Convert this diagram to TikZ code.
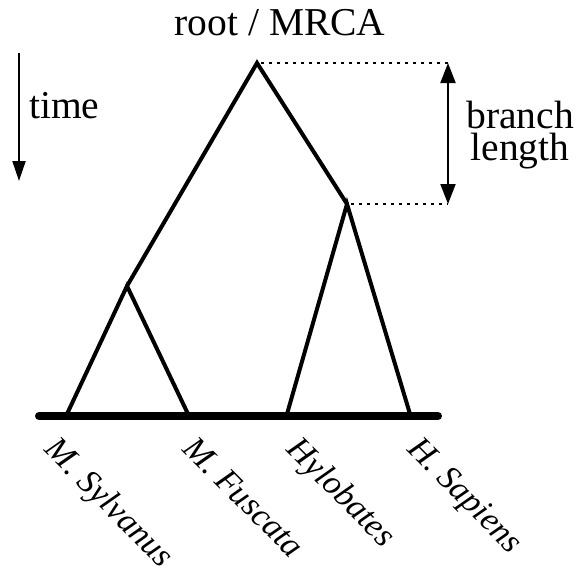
\documentclass[tikz,border=0pt]{standalone}
\usepackage{fontspec}
\setmainfont{Liberation Serif}
\usetikzlibrary{arrows.meta}
\begin{document}
\begin{tikzpicture}[x=1pt,y=-1pt,
  branchline/.style={line width=4pt, line join=miter},
  baseline bar/.style={line width=8pt, line cap=round},
  dotline/.style={line width=1.5pt, dash pattern=on 3pt off 5pt},
  arrowline/.style={line width=2pt},
  bigtext/.style={font=\fontsize{39.5}{39.5}\selectfont, inner sep=0pt},
  leaflabel/.style={font=\fontsize{34}{34}\selectfont\itshape, inner sep=0pt, rotate=-45, anchor=north west}]
\useasboundingbox (0,0) rectangle (577,566);
% tree points
\coordinate (root) at (257,63);
\coordinate (a) at (127,286);
\coordinate (b) at (347,204);
\coordinate (l1) at (67,414);
\coordinate (l2) at (188,414);
\coordinate (l3) at (287,414);
\coordinate (l4) at (410,414);
\coordinate (barL) at (39,416);
\coordinate (barR) at (438,416);
\coordinate (dr) at (448,63);
\coordinate (db) at (448,204);
\coordinate (t1) at (19,53);
\coordinate (t2) at (19,181);
% dotted guides
\draw[dotline] (root) ++(4,0) -- (dr);
\draw[dotline] (b) ++(4,0) -- (db);
% branch length arrow
\draw[arrowline, {Triangle[width=15pt,length=20pt]}-{Triangle[width=15pt,length=20pt]}] (dr) -- (db);
% time arrow
\draw[arrowline, -{Triangle[width=13pt,length=20pt]}] (t1) -- (t2);
% tree
\draw[branchline] (l1) -- (a) -- (l2);
\draw[branchline] (a) -- (root) -- (b);
\draw[branchline] (l3) -- (b) -- (l4);
\draw[baseline bar] (barL) -- (barR);
% texts
\node[bigtext, anchor=base] (rootlbl) at (280,35) {root / MRCA};
\node[bigtext, anchor=base west] (timelbl) at (29,118) {time};
\node[bigtext, anchor=base] (brlbl) at (520,128) {branch};
\node[bigtext, anchor=base] (lenlbl) at (520,160) {length};
% leaf labels
\node[leaflabel] (n1) at (60,434) {M. Sylvanus};
\node[leaflabel] (n2) at (197,434) {M. Fuscata};
\node[leaflabel] (n3) at (302,434) {Hylobates};
\node[leaflabel] (n4) at (422,434) {H. Sapiens};
\end{tikzpicture}
\end{document}
